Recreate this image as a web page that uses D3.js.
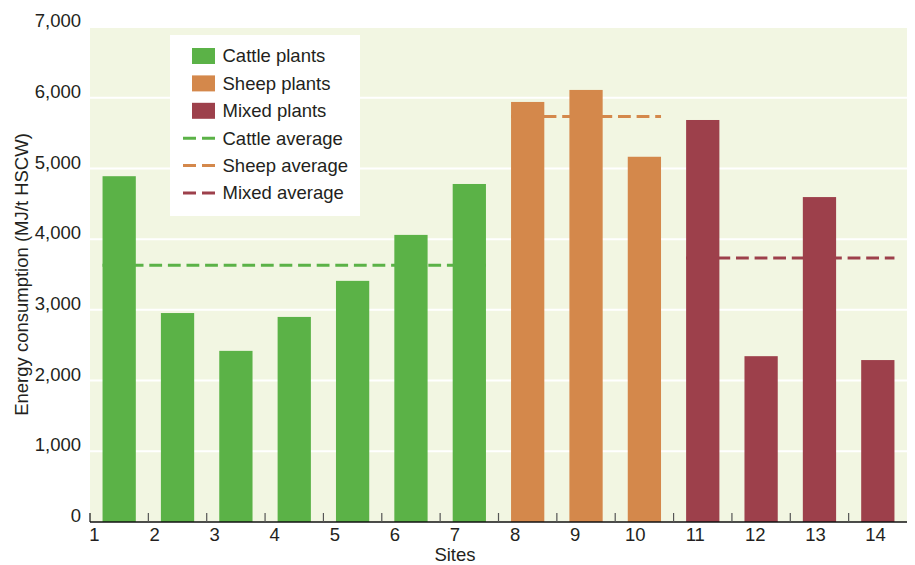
<!DOCTYPE html>
<html>
<head>
<meta charset="utf-8">
<script src="https://cdn.jsdelivr.net/npm/d3@7"></script>
<style>
  html, body { margin: 0; padding: 0; background: #ffffff; }
  svg { display: block; font-family: "Liberation Sans", Arial, Helvetica, sans-serif; }
</style>
</head>
<body>
<svg id="chart" width="915" height="565"></svg>
<script>
// ---- data ----
const sites = ["1","2","3","4","5","6","7","8","9","10","11","12","13","14"];
const values = [4890, 2955, 2420, 2900, 3410, 4060, 4780, 5940, 6110, 5165, 5685, 2345, 4595, 2290];
const groups = ["Cattle","Cattle","Cattle","Cattle","Cattle","Cattle","Cattle","Sheep","Sheep","Sheep","Mixed","Mixed","Mixed","Mixed"];
const groupNames = ["Cattle", "Sheep", "Mixed"];
const groupAverages = [3632, 5735, 3735];
const groupColors = ["#5bb247", "#d4884b", "#9d404b"];
const legendLabels = ["Cattle plants", "Sheep plants", "Mixed plants", "Cattle average", "Sheep average", "Mixed average"];
const yTicks = [0, 1000, 2000, 3000, 4000, 5000, 6000, 7000];

(function () {
// ---- layout / style ----
const svg = d3.select("#chart");
const mLeft = 90, mRight = 907, mTop = 27, mBottom = 522;
const fontSize = "18.5px";
const textColor = "#231f20";
const dash = [12.8, 5.8], dashPeriod = dash[0] + dash[1];
const dashPhase = { Cattle: 149.3, Sheep: 618, Mixed: 736 }; // pixel where a dash begins

const x = d3.scaleBand().domain(sites).range([mLeft, mRight]).paddingInner(0.43).paddingOuter(0.215);
const xEdge = d3.scaleBand().domain(sites).range([mLeft, mRight]);
const xLabel = d3.scalePoint().domain(sites).range([94, 875]);
const y = d3.scaleLinear().domain([0, 7000]).range([mBottom, mTop]);
const color = d3.scaleOrdinal().domain(groupNames).range(groupColors);

// background
svg.append("rect").attr("x", mLeft).attr("y", mTop).attr("width", mRight - mLeft).attr("height", mBottom - mTop)
  .attr("fill", "#f2f6e2");

// gridlines
svg.append("g").selectAll("line").data(yTicks.filter(d => d > 0)).join("line")
  .attr("x1", mLeft).attr("x2", mRight)
  .attr("y1", d => y(d)).attr("y2", d => y(d))
  .attr("stroke", "#ffffff").attr("stroke-width", 2);

// average lines
const avgData = groupNames.map((g, i) => {
  const s = sites.filter((d, j) => groups[j] === g);
  return { g, avg: groupAverages[i], x1: x(s[0]), x2: x(s[s.length - 1]) + x.bandwidth() };
});
svg.append("g").selectAll("line").data(avgData).join("line")
  .attr("x1", d => d.x1).attr("x2", d => d.x2)
  .attr("y1", d => y(d.avg)).attr("y2", d => y(d.avg))
  .attr("stroke", d => color(d.g)).attr("stroke-width", 3)
  .attr("stroke-dasharray", dash.join(","))
  .attr("stroke-dashoffset", d => (((d.x1 - dashPhase[d.g]) % dashPeriod) + dashPeriod) % dashPeriod);

// bars
svg.append("g").selectAll("rect").data(sites).join("rect")
  .attr("x", d => x(d))
  .attr("width", x.bandwidth())
  .attr("y", (d, i) => y(values[i]))
  .attr("height", (d, i) => y(0) - y(values[i]))
  .attr("fill", (d, i) => color(groups[i]));

// legend
const lg = svg.append("g");
lg.append("rect").attr("x", 170).attr("y", 35).attr("width", 190).attr("height", 181).attr("fill", "#ffffff");
const rowY = i => 56 + i * 27.4;
legendLabels.forEach((lab, i) => {
  const c = groupColors[i % 3];
  if (i < 3) {
    lg.append("rect").attr("x", 192).attr("y", rowY(i) - 8).attr("width", 23).attr("height", 16).attr("fill", c);
  } else {
    lg.append("line").attr("x1", 183).attr("x2", 215).attr("y1", rowY(i)).attr("y2", rowY(i))
      .attr("stroke", c).attr("stroke-width", 3).attr("stroke-dasharray", "13,6");
  }
  lg.append("text").attr("x", 222.5).attr("y", rowY(i)).attr("dy", "0.35em")
    .attr("font-size", fontSize).attr("fill", textColor).text(lab);
});

// y axis labels
const yAxis = svg.append("g").attr("transform", `translate(${mLeft},0)`)
  .call(d3.axisLeft(y).tickValues(yTicks).tickFormat(d3.format(",")).tickSize(0).tickPadding(9));
yAxis.select(".domain").remove();
yAxis.selectAll("text").attr("font-size", fontSize).attr("fill", textColor)
  .attr("font-family", "Liberation Sans, Arial, sans-serif").attr("dy", "-0.02em");

// x axis line + ticks
svg.append("line").attr("x1", mLeft).attr("x2", mRight).attr("y1", mBottom).attr("y2", mBottom)
  .attr("stroke", "#111").attr("stroke-width", 1.5);
svg.append("g").selectAll("line").data(sites).join("line")
  .attr("x1", d => xEdge(d)).attr("x2", d => xEdge(d))
  .attr("y1", mBottom - 9).attr("y2", mBottom)
  .attr("stroke", (d, i) => i === 0 ? "#111" : "#555").attr("stroke-width", 1.2);

// x labels
const xAxis = svg.append("g").attr("transform", `translate(0,${mBottom})`)
  .call(d3.axisBottom(xLabel).tickSize(0).tickPadding(6));
xAxis.select(".domain").remove();
xAxis.selectAll("text").attr("font-size", fontSize).attr("fill", textColor)
  .attr("font-family", "Liberation Sans, Arial, sans-serif");

// axis titles
svg.append("text").attr("x", 455).attr("y", 555).attr("dy", "0.35em").attr("text-anchor", "middle")
  .attr("font-size", fontSize).attr("fill", textColor).text("Sites");
svg.append("text").attr("transform", `translate(22,${(mTop + mBottom) / 2}) rotate(-90)`)
  .attr("dy", "0.35em").attr("text-anchor", "middle")
  .attr("font-size", fontSize).attr("fill", textColor).text("Energy consumption (MJ/t HSCW)");
})();
</script>
</body>
</html>
